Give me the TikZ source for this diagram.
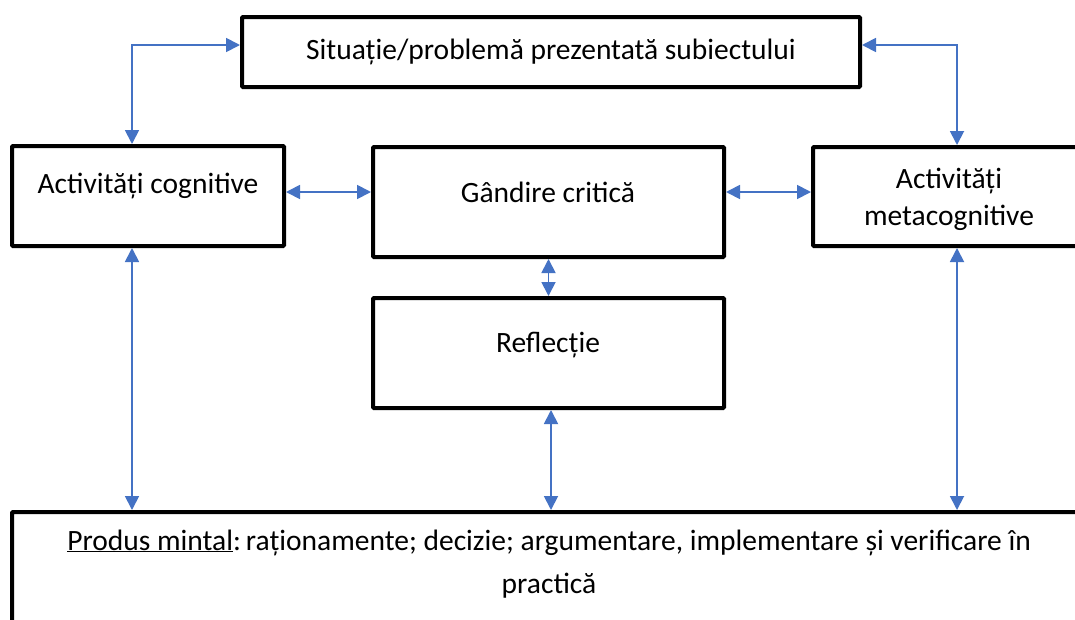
\documentclass[tikz,border=0pt]{standalone}
\usepackage{fontspec}
\setmainfont{Carlito}
\usetikzlibrary{arrows.meta}
\definecolor{arrowblue}{HTML}{4472C4}
\tikzset{
  box/.style={draw=black, line width=4pt, rounded corners=1pt, fill=white, inner sep=0pt},
  lbl/.style={anchor=base, inner sep=0pt, font=\fontsize{29.5}{34}\selectfont},
  conn/.style={draw=arrowblue, line width=1.8pt, {Triangle[length=14pt,width=14pt]}-{Triangle[length=14pt,width=14pt]}}
}
\begin{document}
\begin{tikzpicture}[x=1pt,y=-1pt]
\clip (0,0) rectangle (1075,619);
\fill[white] (0,0) rectangle (1075,619);
% boxes
\node[box, minimum width=618pt, minimum height=70pt] (top) at (551,52) {};
\node[box, minimum width=272pt, minimum height=100pt] (cog) at (148,196) {};
\node[box, minimum width=351pt, minimum height=110pt] (gand) at (548.5,202) {};
\node[box, minimum width=272pt, minimum height=99pt] (meta) at (949,196.5) {};
\node[box, minimum width=351pt, minimum height=110pt] (refl) at (548.5,353) {};
\node[box, minimum width=1074pt, minimum height=150pt] (prod) at (549,587) {};
% texts
\node[lbl] (ttop) at (551,59) {Situație/problemă prezentată subiectului};
\node[lbl] (tcog) at (148,193) {Activități cognitive};
\node[lbl] (tgand) at (548,202) {Gândire critică};
\node[lbl] (tmeta1) at (949,188) {Activități};
\node[lbl] (tmeta2) at (949,225) {metacognitive};
\node[lbl] (trefl) at (548,352) {Reflecție};
\node[lbl] (tprod1) at (549,550) {\underline{Produs mintal}:\,raționamente; decizie; argumentare, implementare și verificare în};
\node[lbl] (tprod2) at (549,593) {practică};
% connectors
\draw[conn] ([xshift=-16pt]cog.north) |- ([yshift=7pt]top.west);
\draw[conn] ([xshift=8pt]meta.north) |- ([yshift=7pt]top.east);
\draw[conn] ([yshift=4pt]cog.east) -- ([yshift=4pt]cog.east -| gand.west);
\draw[conn] ([yshift=10pt]gand.east) -- ([yshift=10pt]gand.east -| meta.west);
\draw[conn] (gand.south) -- (refl.north);
\draw[conn] ([xshift=-16pt]cog.south) -- ([xshift=-16pt]cog.south |- prod.north);
\draw[conn] ([xshift=2.5pt]refl.south) -- ([xshift=2.5pt]refl.south |- prod.north);
\draw[conn] ([xshift=8pt]meta.south) -- ([xshift=8pt]meta.south |- prod.north);
\end{tikzpicture}
\end{document}
